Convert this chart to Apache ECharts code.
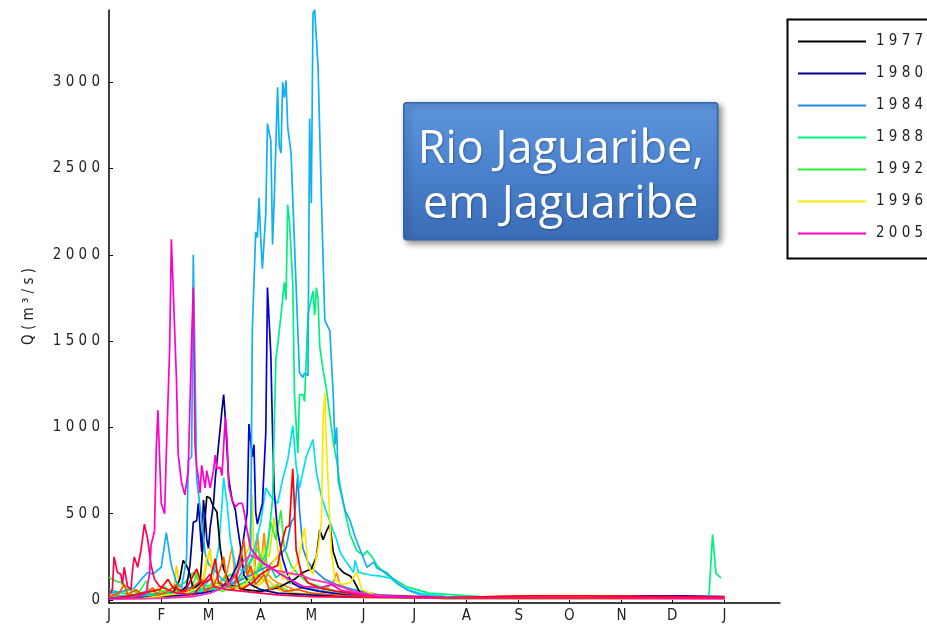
<!DOCTYPE html>
<html>
<head>
<meta charset="utf-8">
<script src="https://cdn.jsdelivr.net/npm/echarts@6/dist/echarts.min.js"></script>
<style>
  html, body { margin: 0; padding: 0; background: #fff; }
  #chart-container { width: 927px; height: 627px; }
</style>
</head>
<body>
<div id="chart-container"></div>
<script>
var dom = document.getElementById('chart-container');
var myChart = echarts.init(dom, null, { renderer: 'canvas' });

// month starts (day of year) and their letters
var monthStarts = [0, 31, 59, 90, 120, 151, 181, 212, 243, 273, 304, 334, 365];
var monthLetters = ['J', 'F', 'M', 'A', 'M', 'J', 'J', 'A', 'S', 'O', 'N', 'D', 'J'];
var qTicks = [0, 500, 1000, 1500, 2000, 2500, 3000];
var legendYears = ['1977', '1980', '1984', '1988', '1992', '1996', '2005'];

// daily discharge Q (m3/s) as [day, Q]
var q1977 = [[0,15],[25,20],[38,40],[42,120],[44,230],[46,200],[48,150],[50,60],[54,100],[56,350],[58,600],[60,590],[62,540],[64,510],[66,300],[68,180],[72,90],[80,60],[90,50],[100,70],[110,120],[115,160],[120,180],[123,250],[125,405],[127,350],[129,400],[131,440],[133,280],[136,190],[139,160],[143,140],[145,116],[149,40],[160,20],[200,10],[365,8]];
var q1980 = [[0,10],[20,15],[40,30],[46,80],[48,200],[50,450],[52,460],[53,560],[55,280],[56,580],[57,500],[58,350],[59,300],[60,420],[62,560],[63,700],[65,900],[67,1100],[68,1190],[69,1050],[71,700],[73,580],[75,520],[76,440],[78,310],[80,145],[84,90],[90,60],[100,40],[120,30],[150,20],[200,12],[300,10],[365,10]];
var q1984 = [[0,20],[20,30],[40,40],[50,80],[55,60],[65,80],[75,100],[85,150],[95,200],[100,250],[105,300],[108,450],[110,480],[112,730],[113,520],[115,300],[118,220],[122,170],[128,120],[135,90],[145,60],[160,30],[200,15],[250,10],[365,10]];
var q1988 = [[0,20],[20,25],[40,40],[60,60],[75,80],[85,120],[90,200],[94,300],[97,580],[99,1400],[100,1470],[103,1740],[104,1840],[105,1740],[106,2290],[107,2200],[109,1840],[110,1190],[112,850],[113,1190],[115,1190],[116,1150],[118,1650],[119,1700],[121,1790],[122,1650],[123,1810],[124,1740],[125,1470],[127,1330],[129,1220],[133,920],[135,810],[137,670],[140,510],[143,380],[147,285],[151,260],[153,285],[156,250],[159,200],[165,145],[173,98],[177,75],[190,40],[220,20],[280,15],[355,20],[356,40],[358,380],[360,156],[363,127]];
var q1992 = [[0,130],[4,110],[8,100],[12,60],[18,40],[25,30],[35,60],[45,100],[50,160],[53,120],[58,80],[65,100],[72,150],[78,120],[83,200],[88,300],[92,200],[96,450],[99,350],[102,520],[104,300],[108,200],[112,150],[118,100],[125,80],[135,50],[150,30],[170,15],[200,10],[365,8]];
var q1996 = [[0,5],[20,10],[35,30],[45,40],[55,80],[58,250],[60,260],[62,90],[70,60],[80,80],[86,150],[90,100],[96,200],[100,260],[103,120],[108,150],[112,220],[116,420],[118,200],[121,150],[124,300],[126,460],[127,1040],[128,1200],[129,890],[131,460],[132,270],[134,120],[138,90],[143,100],[147,160],[150,60],[160,20],[200,8],[365,5]];
var q2005 = [[0,10],[15,15],[22,40],[24,150],[25,320],[27,400],[28,870],[29,1100],[31,560],[33,500],[34,850],[36,1470],[37,2090],[38,2090],[40,1280],[41,850],[43,680],[45,610],[46,610],[47,750],[49,1500],[50,1810],[51,900],[52,770],[53,710],[54,620],[55,780],[57,650],[58,750],[60,650],[62,750],[63,840],[64,760],[66,770],[67,720],[69,1060],[70,940],[71,660],[73,580],[75,540],[77,560],[79,560],[80,520],[82,400],[84,300],[88,250],[92,210],[96,190],[100,160],[107,120],[115,80],[125,70],[132,90],[137,60],[145,40],[160,20],[200,12],[365,10]];
// other years of the record (not in the legend)
var qSky = [[0,40],[8,50],[15,70],[20,130],[23,160],[26,150],[31,190],[34,390],[37,200],[40,100],[43,70],[46,240],[47,810],[49,830],[50,2000],[52,700],[55,460],[57,270],[59,210],[63,170],[67,120],[72,90],[77,130],[81,200],[84,280],[85,1560],[87,2130],[88,2100],[89,2330],[90,2090],[91,1920],[93,2240],[94,2760],[96,2660],[97,2060],[98,2320],[100,2970],[101,2630],[102,2590],[103,3000],[104,2910],[105,3010],[106,2740],[108,2590],[109,2320],[112,1560],[113,1315],[115,1290],[116,1315],[118,1300],[119,2790],[120,2300],[121,3400],[122,3420],[124,3090],[126,2320],[128,1620],[131,1560],[133,1190],[134,900],[135,1000],[136,690],[140,520],[143,460],[146,365],[149,290],[153,190],[157,220],[159,185],[165,156],[171,98],[177,58],[185,29],[196,17],[230,10],[300,8],[365,10]];
var qBlue = [[0,15],[20,20],[40,25],[55,40],[65,60],[72,120],[76,200],[79,300],[82,510],[83,1020],[84,1020],[85,830],[86,900],[87,510],[88,440],[91,560],[93,970],[94,1810],[96,1420],[97,970],[98,630],[100,400],[103,240],[106,145],[109,98],[113,75],[125,50],[140,30],[160,20],[200,15],[250,12],[300,20],[320,25],[340,25],[365,20]];
var qCyan = [[0,10],[20,20],[40,30],[55,60],[62,150],[65,300],[67,550],[68,710],[70,560],[72,350],[75,200],[80,160],[85,250],[90,450],[93,650],[96,600],[100,560],[103,700],[106,810],[109,1010],[111,780],[113,650],[117,830],[121,930],[123,740],[126,600],[129,510],[133,400],[135,350],[137,280],[140,230],[143,190],[145,160],[146,230],[148,160],[155,145],[160,140],[167,127],[172,87],[178,58],[184,40],[200,20],[250,15],[365,12]];
var qLime = [[0,10],[20,15],[40,30],[55,60],[65,100],[75,160],[80,250],[83,300],[85,610],[86,200],[88,150],[92,300],[95,250],[98,480],[100,300],[103,150],[108,100],[115,70],[125,50],[140,30],[160,15],[365,5]];
var qOrange = [[0,5],[20,10],[40,20],[55,40],[65,80],[70,160],[73,310],[75,120],[78,300],[80,150],[83,200],[86,120],[88,390],[90,180],[92,390],[94,150],[97,120],[100,100],[110,60],[120,80],[128,60],[133,100],[135,160],[137,90],[145,40],[160,20],[200,12],[240,25],[300,25],[330,15],[365,12]];
var qRed = [[0,10],[10,20],[20,40],[30,60],[35,120],[38,70],[45,50],[52,180],[55,90],[60,120],[63,240],[65,100],[70,80],[75,150],[78,60],[85,100],[90,150],[95,180],[100,200],[103,350],[105,420],[107,430],[109,760],[110,540],[111,290],[114,160],[118,100],[125,70],[135,50],[150,30],[200,15],[250,25],[280,25],[365,18]];
var qCrimson = [[0,30],[2,60],[3,250],[5,160],[7,150],[8,90],[9,190],[11,80],[13,60],[14,180],[15,250],[17,190],[19,290],[21,440],[23,350],[25,200],[27,120],[30,80],[35,60],[40,40],[50,30],[60,150],[62,80],[70,60],[80,50],[90,40],[100,30],[120,20],[150,15],[200,12],[365,15]];
var qGreen2 = [[0,40],[5,30],[10,60],[13,20],[18,50],[22,110],[24,40],[28,30],[33,80],[36,40],[42,60],[46,30],[50,90],[52,160],[54,70],[58,40],[62,120],[64,60],[68,50],[72,100],[75,200],[77,90],[80,60],[84,140],[86,80],[90,260],[92,120],[95,70],[100,90],[105,60],[110,40],[120,30],[140,20],[200,10],[365,8]];
var qOrRed = [[0,20],[6,40],[9,90],[11,30],[16,60],[20,30],[26,70],[29,30],[35,50],[40,90],[42,40],[48,60],[55,120],[57,50],[62,80],[66,180],[68,250],[70,90],[74,60],[77,180],[80,350],[82,140],[84,200],[87,90],[92,150],[95,60],[100,80],[104,50],[112,60],[120,40],[140,25],[200,15],[250,20],[300,18],[365,15]];
var qYellow2 = [[0,10],[8,20],[15,60],[17,20],[25,30],[30,80],[33,30],[38,40],[40,200],[42,60],[48,40],[55,70],[60,300],[62,80],[66,60],[70,120],[74,60],[80,90],[84,180],[86,70],[94,120],[100,60],[110,40],[120,30],[150,15],[365,5]];
var qPink2 = [[0,5],[30,10],[50,20],[60,40],[70,80],[76,160],[80,230],[84,260],[88,240],[92,210],[96,180],[100,170],[105,160],[110,150],[115,140],[120,120],[125,110],[130,100],[135,85],[140,70],[145,50],[155,30],[180,15],[365,8]];
var qTeal = [[0,60],[4,50],[8,40],[15,30],[22,50],[26,30],[35,40],[45,60],[50,40],[58,50],[65,80],[70,60],[78,90],[83,120],[88,150],[92,110],[96,190],[99,130],[103,160],[107,100],[112,90],[118,70],[125,55],[135,40],[150,25],[200,12],[365,10]];

var lines = [
  { name: 'outro-8', data: qTeal, color: '#00d0a0' },
  { name: 'outro-9', data: qGreen2, color: '#40ff30' },
  { name: 'outro-10', data: qYellow2, color: '#ffd400' },
  { name: 'outro-1', data: qOrange, color: '#ff8c00' },
  { name: 'outro-2', data: qLime, color: '#c8f000' },
  { name: '1992', data: q1992, color: '#33ee33' },
  { name: '1984', data: q1984, color: '#1e88e8' },
  { name: 'outro-3', data: qCyan, color: '#00e0f0' },
  { name: '1977', data: q1977, color: '#000000' },
  { name: 'outro-4', data: qBlue, color: '#0000dd' },
  { name: '1980', data: q1980, color: '#000090' },
  { name: '1988', data: q1988, color: '#00f080' },
  { name: 'outro-5', data: qSky, color: '#10b0f4' },
  { name: '1996', data: q1996, color: '#ffe800' },
  { name: 'outro-11', data: qOrRed, color: '#ff5000' },
  { name: 'outro-6', data: qRed, color: '#ff0000' },
  { name: 'outro-12', data: qPink2, color: '#ff30b0' },
  { name: 'outro-7', data: qCrimson, color: '#ff0050' },
  { name: '2005', data: q2005, color: '#ff00cc' }
];

var narrow = "'Liberation Sans Narrow', 'DejaVu Sans Condensed', sans-serif";
function spaced(s) { return String(s).split('').join(' '); }

var option = {
  animation: false,
  backgroundColor: '#fff',
  grid: { left: 109, right: 147, top: 10, bottom: 24 },
  legend: {
    data: legendYears,
    orient: 'vertical',
    left: 798,
    top: 34,
    padding: 0,
    icon: 'rect',
    itemWidth: 68,
    itemHeight: 2,
    itemGap: 17,
    formatter: function (n) { return spaced(n); },
    textStyle: { fontFamily: narrow, fontSize: 15, color: '#222', padding: [0, 0, 0, 5] }
  },
  xAxis: {
    type: 'value',
    min: 0,
    max: 398,
    splitLine: { show: false },
    axisLine: { onZero: false, lineStyle: { color: '#000', width: 1.5 } },
    axisTick: { inside: true, length: 4, customValues: monthStarts, lineStyle: { color: '#000' } },
    axisLabel: {
      customValues: monthStarts,
      margin: 6,
      fontFamily: narrow,
      fontSize: 15,
      color: '#222',
      formatter: function (v) {
        var i = monthStarts.indexOf(Math.round(v));
        return i >= 0 ? monthLetters[i] : '';
      }
    }
  },
  yAxis: {
    type: 'value',
    min: -17,
    max: 3418,
    name: 'Q ( m ³ / s )',
    nameLocation: 'middle',
    nameGap: 72,
    nameTextStyle: { fontFamily: narrow, fontSize: 15, color: '#222' },
    splitLine: { show: false },
    axisLine: { onZero: false, lineStyle: { color: '#000', width: 1.5 } },
    axisTick: { inside: true, length: 4, customValues: qTicks, lineStyle: { color: '#000' } },
    axisLabel: {
      customValues: qTicks,
      margin: 9,
      fontFamily: narrow,
      fontSize: 15,
      color: '#222',
      formatter: function (v) { return spaced(v); }
    }
  },
  graphic: [{
    type: 'rect',
    left: 785,
    top: 17,
    shape: { x: 0, y: 0, width: 170, height: 239 },
    style: { fill: 'none', stroke: '#000', lineWidth: 2 },
    z: 10
  }, {
    type: 'group',
    left: 403,
    top: 102,
    children: [{
      type: 'rect',
      shape: { x: 0, y: 0, width: 314, height: 137, r: 3 },
      style: {
        fill: new echarts.graphic.LinearGradient(0, 0, 0, 1, [
          { offset: 0, color: '#5e96de' },
          { offset: 0.5, color: '#4a81cc' },
          { offset: 1, color: '#3a6cb6' }
        ]),
        stroke: '#3565a8',
        lineWidth: 1.5,
        shadowBlur: 6,
        shadowOffsetX: 3,
        shadowOffsetY: 3,
        shadowColor: 'rgba(0,0,0,0.45)'
      }
    }, {
      type: 'text',
      x: 157,
      y: 75,
      style: {
        text: 'Rio Jaguaribe,\nem Jaguaribe',
        align: 'center',
        verticalAlign: 'middle',
        fill: '#fff',
        font: '45px "Open Sans", sans-serif',
        lineHeight: 55,
        textShadowColor: 'rgba(0,0,0,0.3)',
        textShadowBlur: 2,
        textShadowOffsetX: 1,
        textShadowOffsetY: 1
      }
    }]
  }],
  series: lines.map(function (l) {
    return {
      name: l.name,
      type: 'line',
      data: l.data,
      showSymbol: false,
      color: l.color,
      lineStyle: { width: 1.7 }
    };
  })
};

myChart.setOption(option);
window.addEventListener('resize', myChart.resize);
</script>
</body>
</html>
